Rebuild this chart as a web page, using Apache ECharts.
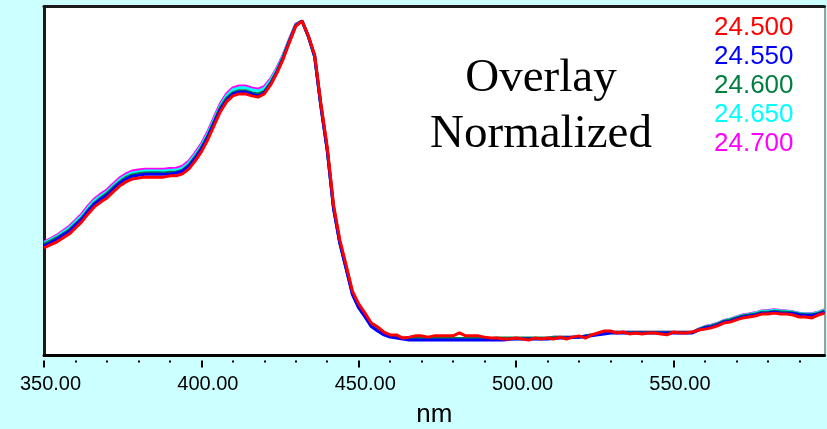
<!DOCTYPE html>
<html>
<head>
<meta charset="utf-8">
<title>Overlay Normalized</title>
<script src="https://cdn.jsdelivr.net/npm/echarts@6/dist/echarts.min.js"></script>
<style>
  html, body { margin: 0; padding: 0; background: #ccffff; }
  #chart { width: 827px; height: 429px; }
</style>
</head>
<body>
<div id="chart"></div>
<script>
// Wavelength grid (nm) shared by all spectra
const wavelengths = [
  350, 352, 354, 356, 358, 360, 362, 364, 366, 368,
  370, 372, 374, 376, 378, 380, 382, 384, 386, 388,
  390, 392, 394, 396, 398, 400, 402, 404, 406, 408,
  410, 412, 414, 416, 418, 420, 422, 424, 426, 428,
  430, 432, 434, 436, 438, 440, 442, 444, 446, 448,
  450, 452, 454, 456, 458, 460, 462, 464, 466, 468,
  470, 472, 474, 476, 478, 480, 482, 484, 486, 488,
  490, 492, 494, 496, 498, 500, 502, 504, 506, 508,
  510, 512, 514, 516, 518, 520, 522, 524, 526, 528,
  530, 532, 534, 536, 538, 540, 542, 544, 546, 548,
  550, 552, 554, 556, 558, 560, 562, 564, 566, 568,
  570, 572, 574, 576, 578, 580, 582, 584, 586, 588,
  590, 592, 594, 596, 598
];

// Major tick positions on the wavelength axis
const majorTicks = [350, 400, 450, 500, 550];

// Normalized absorbance for each run
const trace24500 = [
  0.288, 0.297, 0.306, 0.319, 0.331, 0.350, 0.369, 0.394, 0.416, 0.431,
  0.444, 0.463, 0.481, 0.494, 0.503, 0.506, 0.509, 0.509, 0.509, 0.509,
  0.513, 0.513, 0.519, 0.534, 0.559, 0.588, 0.625, 0.669, 0.713, 0.744,
  0.763, 0.769, 0.769, 0.763, 0.759, 0.769, 0.797, 0.834, 0.878, 0.931,
  0.981, 0.997, 0.950, 0.891, 0.738, 0.603, 0.422, 0.313, 0.234, 0.153,
  0.113, 0.084, 0.053, 0.041, 0.025, 0.016, 0.016, 0.006, 0.009, 0.013,
  0.013, 0.009, 0.013, 0.013, 0.013, 0.013, 0.022, 0.013, 0.013, 0.013,
  0.009, 0.006, 0.006, 0.003, 0.003, 0.006, 0.003, 0.000, 0.006, 0.003,
  0.006, 0.003, 0.009, 0.003, 0.009, 0.013, 0.006, 0.016, 0.022, 0.028,
  0.028, 0.022, 0.025, 0.019, 0.022, 0.019, 0.022, 0.022, 0.019, 0.016,
  0.025, 0.022, 0.022, 0.025, 0.031, 0.034, 0.038, 0.044, 0.053, 0.056,
  0.063, 0.069, 0.072, 0.075, 0.081, 0.081, 0.084, 0.081, 0.081, 0.078,
  0.072, 0.072, 0.069, 0.078, 0.084
];
const trace24550 = [
  0.294, 0.304, 0.315, 0.328, 0.340, 0.359, 0.378, 0.403, 0.425, 0.440,
  0.453, 0.472, 0.490, 0.503, 0.512, 0.515, 0.518, 0.518, 0.518, 0.518,
  0.519, 0.522, 0.528, 0.543, 0.568, 0.597, 0.634, 0.678, 0.721, 0.750,
  0.769, 0.775, 0.775, 0.769, 0.763, 0.773, 0.800, 0.837, 0.881, 0.934,
  0.983, 0.997, 0.948, 0.885, 0.728, 0.592, 0.410, 0.302, 0.222, 0.142,
  0.100, 0.072, 0.042, 0.028, 0.016, 0.009, 0.006, 0.003, 0.000, 0.000,
  0.000, 0.000, 0.000, 0.000, 0.000, 0.000, 0.000, 0.000, 0.000, 0.000,
  0.000, 0.000, 0.000, 0.000, 0.002, 0.003, 0.003, 0.003, 0.003, 0.003,
  0.003, 0.005, 0.006, 0.006, 0.009, 0.009, 0.011, 0.013, 0.016, 0.019,
  0.022, 0.022, 0.022, 0.022, 0.022, 0.022, 0.022, 0.022, 0.022, 0.022,
  0.022, 0.022, 0.022, 0.022, 0.031, 0.038, 0.041, 0.047, 0.056, 0.059,
  0.066, 0.072, 0.075, 0.078, 0.084, 0.084, 0.088, 0.084, 0.084, 0.083,
  0.079, 0.077, 0.077, 0.081, 0.088
];
const trace24600 = [
  0.300, 0.309, 0.319, 0.331, 0.344, 0.363, 0.381, 0.406, 0.428, 0.444,
  0.458, 0.477, 0.494, 0.508, 0.516, 0.520, 0.522, 0.523, 0.523, 0.522,
  0.524, 0.525, 0.531, 0.547, 0.572, 0.601, 0.638, 0.682, 0.726, 0.756,
  0.773, 0.779, 0.779, 0.773, 0.769, 0.777, 0.804, 0.840, 0.884, 0.936,
  0.984, 0.997, 0.949, 0.887, 0.731, 0.595, 0.414, 0.305, 0.226, 0.147,
  0.104, 0.075, 0.046, 0.031, 0.019, 0.013, 0.009, 0.006, 0.005, 0.005,
  0.005, 0.005, 0.005, 0.005, 0.005, 0.005, 0.005, 0.005, 0.005, 0.005,
  0.005, 0.005, 0.006, 0.006, 0.006, 0.006, 0.006, 0.006, 0.006, 0.006,
  0.006, 0.009, 0.009, 0.009, 0.009, 0.009, 0.013, 0.016, 0.019, 0.022,
  0.024, 0.024, 0.024, 0.024, 0.024, 0.024, 0.024, 0.024, 0.024, 0.024,
  0.024, 0.024, 0.024, 0.024, 0.033, 0.040, 0.044, 0.050, 0.059, 0.063,
  0.069, 0.075, 0.078, 0.081, 0.087, 0.087, 0.090, 0.088, 0.087, 0.085,
  0.081, 0.079, 0.079, 0.083, 0.091
];
const trace24650 = [
  0.303, 0.313, 0.323, 0.337, 0.350, 0.369, 0.388, 0.413, 0.435, 0.450,
  0.463, 0.482, 0.500, 0.513, 0.522, 0.525, 0.528, 0.528, 0.528, 0.528,
  0.530, 0.531, 0.537, 0.553, 0.578, 0.607, 0.644, 0.688, 0.732, 0.763,
  0.782, 0.788, 0.788, 0.782, 0.778, 0.786, 0.811, 0.846, 0.888, 0.939,
  0.986, 0.997, 0.949, 0.886, 0.730, 0.594, 0.413, 0.304, 0.225, 0.146,
  0.103, 0.074, 0.045, 0.030, 0.018, 0.012, 0.008, 0.005, 0.004, 0.004,
  0.004, 0.004, 0.004, 0.004, 0.004, 0.004, 0.004, 0.004, 0.004, 0.004,
  0.004, 0.004, 0.004, 0.004, 0.004, 0.004, 0.004, 0.004, 0.004, 0.004,
  0.004, 0.008, 0.008, 0.008, 0.008, 0.008, 0.012, 0.015, 0.018, 0.021,
  0.023, 0.023, 0.023, 0.023, 0.023, 0.023, 0.023, 0.023, 0.023, 0.023,
  0.023, 0.023, 0.023, 0.023, 0.033, 0.041, 0.045, 0.051, 0.060, 0.064,
  0.071, 0.077, 0.080, 0.084, 0.090, 0.090, 0.093, 0.091, 0.090, 0.087,
  0.083, 0.081, 0.081, 0.086, 0.093
];
const trace24700 = [
  0.306, 0.316, 0.327, 0.341, 0.355, 0.374, 0.394, 0.419, 0.441, 0.456,
  0.469, 0.488, 0.506, 0.519, 0.528, 0.531, 0.534, 0.534, 0.534, 0.534,
  0.536, 0.537, 0.543, 0.559, 0.584, 0.613, 0.650, 0.694, 0.738, 0.769,
  0.788, 0.794, 0.794, 0.788, 0.784, 0.792, 0.816, 0.850, 0.891, 0.941,
  0.987, 0.997, 0.950, 0.887, 0.731, 0.595, 0.414, 0.305, 0.226, 0.147,
  0.104, 0.075, 0.046, 0.031, 0.019, 0.013, 0.009, 0.006, 0.005, 0.005,
  0.005, 0.005, 0.005, 0.005, 0.005, 0.005, 0.005, 0.005, 0.005, 0.005,
  0.005, 0.005, 0.005, 0.005, 0.005, 0.005, 0.005, 0.005, 0.005, 0.005,
  0.005, 0.009, 0.009, 0.009, 0.009, 0.009, 0.013, 0.016, 0.019, 0.022,
  0.024, 0.024, 0.024, 0.024, 0.024, 0.024, 0.024, 0.024, 0.024, 0.024,
  0.024, 0.024, 0.024, 0.024, 0.034, 0.042, 0.046, 0.052, 0.061, 0.065,
  0.072, 0.078, 0.081, 0.085, 0.091, 0.092, 0.095, 0.092, 0.091, 0.088,
  0.084, 0.082, 0.082, 0.087, 0.094
];

const traceNames = ['24.500', '24.550', '24.600', '24.650', '24.700'];
const traceValues = [trace24500, trace24550, trace24600, trace24650, trace24700];
const traceColors = ['#ff0000', '#0000ff', '#008040', '#00ffff', '#ff00ff'];

const X_MIN = 350, X_MAX = 598;
const Y_MIN = -0.0484, Y_MAX = 1.0422;

const chart = echarts.init(document.getElementById('chart'), null, { renderer: 'canvas' });

// Later series paint on top, so the first run is drawn last
const series = [];
for (let i = traceNames.length - 1; i >= 0; i--) {
  series.push({
    name: traceNames[i],
    type: 'line',
    xAxisIndex: 0,
    yAxisIndex: 0,
    symbol: 'none',
    showSymbol: false,
    smooth: false,
    clip: true,
    lineStyle: { color: traceColors[i], width: 3 },
    itemStyle: { color: traceColors[i] },
    emphasis: { disabled: true },
    data: wavelengths.map((w, k) => [w, traceValues[i][k]])
  });
}

const hiddenAxisParts = {
  axisTick: { show: false },
  axisLabel: { show: false },
  splitLine: { show: false }
};

chart.setOption({
  animation: false,
  backgroundColor: '#ccffff',
  title: {
    text: 'Overlay\nNormalized',
    left: 541,
    top: 51,
    padding: 0,
    textAlign: 'center',
    textStyle: {
      fontFamily: 'Liberation Serif',
      fontSize: 47,
      fontWeight: 'normal',
      color: '#000',
      lineHeight: 56
    }
  },
  legend: {
    orient: 'vertical',
    left: 709,
    top: 13,
    padding: 0,
    itemGap: 0,
    itemWidth: 0,
    itemHeight: 1,
    icon: 'none',
    selectedMode: false,
    textStyle: { fontFamily: 'Liberation Sans', fontSize: 26, lineHeight: 29 },
    data: traceNames.map((n, i) => ({ name: n, icon: 'none', textStyle: { color: traceColors[i] } }))
  },
  grid: {
    left: 44,
    right: 2.5,
    top: 6.5,
    bottom: 73.5,
    show: true,
    backgroundColor: '#ffffff',
    borderWidth: 0,
    outerBoundsMode: 'none',
    containLabel: false
  },
  xAxis: [
    {
      type: 'value', min: X_MIN, max: X_MAX, position: 'bottom',
      axisLine: { show: true, onZero: false, lineStyle: { color: '#000', width: 3 } },
      ...hiddenAxisParts
    },
    {
      type: 'value', min: X_MIN, max: X_MAX, interval: 50, position: 'bottom', offset: 5,
      axisLine: { show: false, onZero: false },
      axisTick: { show: true, length: 7, customValues: majorTicks, lineStyle: { color: '#000', width: 2 } },
      minorTick: { show: true, splitNumber: 5, length: 2, lineStyle: { color: '#000', width: 2 } },
      axisLabel: {
        show: true,
        margin: 14,
        padding: [0, 0, 0, 13],
        customValues: majorTicks,
        fontFamily: 'Liberation Sans',
        fontSize: 20,
        color: '#000',
        formatter: v => v.toFixed(2)
      },
      splitLine: { show: false },
      name: 'nm',
      nameLocation: 'middle',
      nameGap: 41,
      nameTextStyle: { fontFamily: 'Liberation Sans', fontSize: 26, color: '#000' }
    },
    {
      type: 'value', min: X_MIN, max: X_MAX, position: 'top',
      axisLine: { show: true, onZero: false, lineStyle: { color: '#1a1a1a', width: 3 } },
      ...hiddenAxisParts
    }
  ],
  yAxis: [
    {
      type: 'value', min: Y_MIN, max: Y_MAX, position: 'left',
      axisLine: { show: true, onZero: false, lineStyle: { color: '#1a1a1a', width: 3 } },
      ...hiddenAxisParts
    },
    {
      type: 'value', min: Y_MIN, max: Y_MAX, position: 'right',
      axisLine: { show: true, onZero: false, lineStyle: { color: '#808080', width: 1.5 } },
      ...hiddenAxisParts
    }
  ],
  series: series
});
</script>
</body>
</html>
